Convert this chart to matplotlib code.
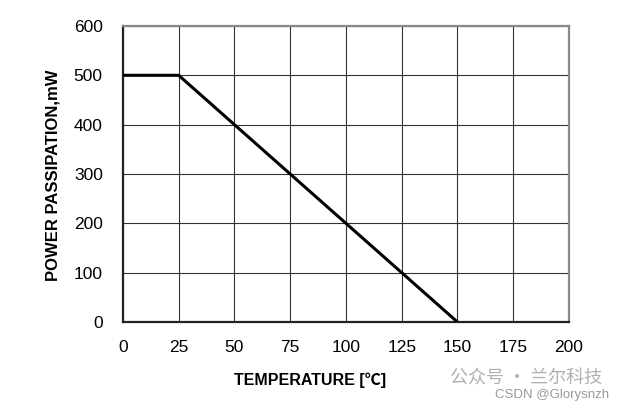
import matplotlib
matplotlib.use("Agg")
import matplotlib.pyplot as plt

temps = [0, 25, 150]
power = [500, 500, 0]
x_ticks = [0, 25, 50, 75, 100, 125, 150, 175, 200]
y_ticks = [0, 100, 200, 300, 400, 500, 600]

plt.rcParams['font.family'] = ['Liberation Sans', 'Noto Sans CJK SC', 'DejaVu Sans']

fig = plt.figure(figsize=(6.27, 4.12), dpi=100)
ax = fig.add_axes([0.196, 0.2184, 0.7115, 0.7186])

ax.plot(temps, power, color='black', lw=2.2, solid_capstyle='butt', zorder=3)
ax.set_xlim(0, 200)
ax.set_ylim(0, 600)
ax.set_xticks(x_ticks)
ax.set_yticks(y_ticks)
ax.grid(True, color='#333333', lw=0.8)
ax.tick_params(length=0, labelsize=12.5)
ax.tick_params(axis='y', pad=14.5)
ax.tick_params(axis='x', pad=13)
for s in ['left', 'bottom']:
    ax.spines[s].set_color('#222222')
    ax.spines[s].set_linewidth(1.6)
for s in ['top', 'right']:
    ax.spines[s].set_color('#888888')
    ax.spines[s].set_linewidth(1.6)

ax.set_xlabel('TEMPERATURE [℃]', fontsize=11.5, fontweight='bold',
              family=['Liberation Sans', 'Noto Sans CJK SC', 'DejaVu Sans'])
ax.xaxis.set_label_coords((310 - 123) / 446, -(380 - 322) / 296)
ax.xaxis.label.set_va('center')

ax.set_ylabel('POWER PASSIPATION,mW', fontsize=12, fontweight='bold')
ax.yaxis.set_label_coords(-(123 - 53) / 446, (322 - 175) / 296)
ax.yaxis.label.set_va('center')

fig.text(0.718, 0.07, '公众号 · 兰尔科技', color='#b0b0b0', fontsize=13,
         family=['Noto Sans CJK SC', 'DejaVu Sans'])
fig.text(0.79, 0.035, 'CSDN @Glorysnzh', color='#999999', fontsize=9.5)

fig.savefig('out.png', dpi=100)
